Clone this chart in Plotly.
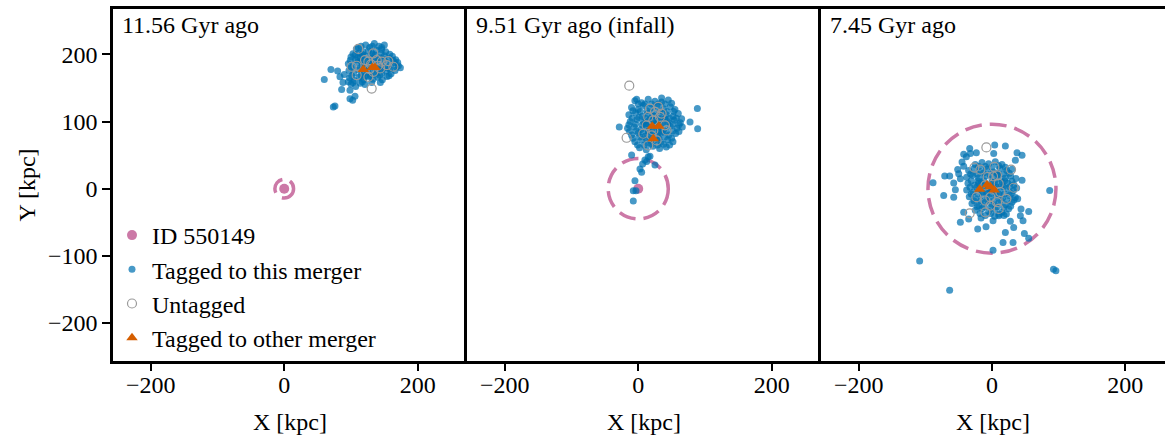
import plotly.graph_objects as go

# ---------------- data ----------------
panel_titles = ["11.56 Gyr ago", "9.51 Gyr ago (infall)", "7.45 Gyr ago"]
host_name = "ID 550149"
host_x = [0, 0, 0]
host_y = [0, 0, 0]
host_rvir = [14, 45, 96]

# Panel 1 (11.56 Gyr ago)
tag1_x = [108, 115, 122, 128, 135, 142, 150, 118, 126, 138, 146, 152, 112,
          100, 106, 114, 121, 129, 136, 143, 150, 157, 162, 167,
          96, 103, 110, 117, 124, 131, 138, 145, 152, 159, 165, 171, 174,
          97, 104, 111, 118, 125, 132, 139, 146, 153, 160, 166,
          98, 105, 112, 119, 126, 133, 140, 147, 154,
          100, 107, 114, 121,
          125, 135, 130, 140, 120, 145, 132, 128, 138, 115, 150, 158, 110, 122,
          111, 132, 146,
          103, 117, 131, 145, 158,
          99, 107, 121, 135, 149, 163, 170,
          100, 114, 128, 142, 156, 168,
          101, 115, 129, 143, 157,
          103, 117, 131, 144,
          70, 80, 60, 83.5, 86, 76, 73.5, 98.5, 102.5, 106, 98.5, 96, 90, 88]
tag1_y = [208, 212, 214, 210, 216, 212, 214, 204, 205, 206, 207, 204, 202,
          196, 199, 195, 198, 194, 199, 195, 198, 194, 197, 192,
          186, 182, 188, 184, 189, 185, 188, 183, 189, 184, 188, 183, 180,
          176, 172, 177, 171, 175, 170, 176, 172, 175, 171, 176,
          165, 161, 166, 162, 167, 163, 166, 162, 167,
          156, 152, 157, 155,
          182, 180, 190, 193, 180, 178, 200, 185, 172, 190, 180, 178, 195, 168,
          210, 212, 210,
          201, 200, 202, 201, 200,
          191, 192, 191, 191, 192, 191, 188,
          180, 180, 179, 181, 180, 181,
          168, 169, 168, 169, 168,
          158, 159, 158, 158,
          177.5, 175, 162.5, 166.5, 147.5, 123, 121.5, 134, 131.5, 137.5, 146.5, 159, 170, 158]
untag1_x = [111, 133.5, 101, 108.5, 121, 126, 138.5, 146, 156, 163.5, 108.5, 126, 133.5, 143.5, 153.5, 131, 130, 140, 128]
untag1_y = [208, 201.5, 181.5, 183, 191.5, 189, 191.5, 189, 190, 181.5, 169, 166.5, 174, 179, 184, 149, 185, 183, 178]
other1_x = [118.5, 132, 136]
other1_y = [177.5, 180.5, 180.5]

# Panel 2 (9.51 Gyr ago, infall)
tag2_x = [-5, 5, 15, 25, 35, 45,
          -10, 0, 8, 18, 28, 38, 48, 55,
          -14, -4, 6, 14, 22, 32, 42, 52, 60,
          -12, -2, 8, 16, 26, 34, 44, 54, 63,
          -16, -6, 4, 12, 20, 30, 38, 48, 58, 66,
          -10, 0, 10, 18, 28, 36, 46, 56,
          -5, 5, 14, 24, 34, 44, 52,
          2, 12, 22, 32, 42,
          20, 28, 15, 32, 24, 10, 40, 30, 18, 36,
          0, 10, 20, 30, 40, 50,
          -8, 3, 13, 23, 33, 43, 53,
          -9, 1, 11, 19, 29, 37, 47, 57,
          -14, -4, 6, 14, 24, 34, 44, 52, 61,
          -13, -3, 7, 16, 25, 33, 42, 52, 61,
          -8, 2, 12, 21, 31, 40, 50,
          -1, 9, 19, 29, 38, 47,
          88.6, 89, 77.6, -28.4, 35, -2.4, 65,
          -9.9, 17.6, 12.6, 6.6, 2.6, 5.1, -4.9, -7.4, -3.4, -7.4, 25.1, 15, 10]
tag2_y = [131, 128, 133, 130, 129, 132,
          121, 118, 124, 120, 123, 119, 122, 118,
          110, 113, 108, 112, 109, 113, 110, 108, 112,
          100, 103, 99, 102, 98, 103, 100, 102, 98,
          90, 92, 88, 93, 89, 91, 88, 93, 90, 92,
          80, 83, 78, 82, 79, 84, 80, 82,
          70, 73, 68, 72, 69, 73, 70,
          61, 58, 63, 60, 62,
          95, 100, 85, 86, 108, 96, 104, 76, 72, 96,
          126, 126, 126, 126, 126, 127,
          116, 115, 116, 116, 116, 115, 115,
          105, 106, 105, 105, 105, 106, 105, 105,
          95, 96, 95, 97, 96, 95, 96, 96, 95,
          85, 86, 84, 86, 85, 84, 85, 86, 85,
          75, 77, 75, 77, 75, 77, 75,
          65, 65, 66, 65, 66, 65,
          119.3, 89.3, 99.3, 91.8, 135, 133, 104,
          50.3, 48.3, 40.3, 36.8, 29.3, 24.3, 11.8, -3.2, -3.2, -18.2, 35.3, 47.6, 42.7]
untag2_x = [17.6, 30, 25, 15, 32.6, 22.6, 12.6, 40, 7.6, 20, 42.6, 15, 27.6, 35, 22.6, -13.4, -17.4]
untag2_y = [119.3, 121.8, 114.3, 106.8, 106.8, 101.8, 94.3, 94.3, 81.8, 79.3, 86.8, 64.3, 71.8, 111.8, 86.8, 153.3, 75.8]
other2_x = [21, 31, 22.6]
other2_y = [92.8, 92.8, 74.3]

# Panel 3 (7.45 Gyr ago)
tag3_x = [-25, -15, -5, 5, 15,
          -35, -27, -18, -8, 2, 12, 22, 30,
          -38, -29, -20, -10, 0, 10, 20, 28, 36,
          -36, -26, -16, -6, 4, 14, 24, 33,
          -38, -28, -18, -8, 2, 12, 22, 32,
          -34, -24, -14, -4, 6, 16, 26, 35,
          -30, -20, -10, 0, 10, 20, 30,
          -25, -15, -5, 5, 15, 25,
          -10, 4, 18,
          -5, 5, -12, 10, 0, -8, 15, -15, 8, -20,
          -20, -10, 0, 10, 20,
          -32, -22, -13, -3, 7, 17, 26,
          -31, -21, 9, 19, 30,
          -33, -23, -13, -3, 7, 17, 27, 37,
          -31, -21, -1, 19, 29,
          -27, -17, -7, 3, 13, 23, 33,
          -22, -12, -2, 8, 18, 28,
          -18, -2, 11,
          -88.4, -72.4, -70.9, -63.4, -57.4, -54.9, -57.4, -49.9, -47.4, -51.4, -42.4,
          -44.9, -38.4, -42.4, -32.4, -23.4, -33.4, 4.1, 20.1, 2.6, 37.6, 45.1, 35.1,
          -42.4, -47.4, -34.9, -21.4, -8.9, 1.6, 1.6, 20.1, 16.6, 31.6, 32.6, 27.6,
          42.6, 46.6, 55.1, 48.6, 55.1, 43.6, 45.1, 38.6, 86.6, 10.1, 21.6, -16.4,
          -108.5, -63.5, 92.3, 95.9]
tag3_y = [36, 39, 37, 40, 36,
          27, 30, 26, 29, 25, 30, 27, 29,
          17, 20, 16, 19, 15, 20, 16, 19, 15,
          8, 5, 9, 6, 10, 5, 8, 6,
          -2, -5, 0, -3, -1, -4, 0, -3,
          -12, -15, -10, -13, -11, -14, -10, -13,
          -22, -25, -20, -23, -21, -24, -20,
          -32, -30, -34, -31, -35, -30,
          -40, -41, -40,
          0, 5, 12, -8, 10, -8, 10, -5, 22, 8,
          33, 33, 32, 34, 32,
          22, 22, 23, 21, 23, 22, 23,
          12, 12, 14, 12, 11,
          2, 2, 3, 2, 2, 3, 3, 1,
          -8, -8, -7, -8, -7,
          -18, -18, -17, -18, -17, -18, -17,
          -27, -27, -28, -27, -28, -26,
          -37, -37, -38,
          8.9, -10.1, 18.9, 18.9, 8.4, -1.6, -12.6, 22.4, 14.9, 28.4, 33.4,
          39.9, 47.4, 51.4, 52.4, 53.4, 59.9, 64.9, 63.4, 52.4, 53.4, 49.9, 42.4,
          -35.1, -50.1, -45.1, -60.1, -56.6, -47.6, -91.6, -65.1, -80.1, -80.1, -57.6, -48.6,
          -40.1, -47.6, -34.1, -66.6, -73.6, -30.1, 12.4, -15.1, -2.6, -40.1, -37.6, -43.6,
          -107.6, -151.3, -120, -122]
untag3_x = [-8.4, -26.4, -17.4, 3.6, 28.6, 32.6, -33.4, -6.4, 1.6, 7.6, -9.9, 10.1, 12.6,
            -23.4, -9.9, -2.4, 7.6, 21.6, -9.9, 10.1, -2.4]
untag3_y = [61.4, 31.4, 28.4, 32.4, 28.4, 1.4, -36.6, 17.4, 18.4, 19.9, 4.9, 7.4, -5.1,
            -12.6, -17.6, -12.6, -20.1, -15.1, -35.1, -30.1, -25.1]
other3_x = [-18.5, -7.5, -2.5, 3.4]
other3_y = [-0.9, 5.5, 3.0, -2.0]

tagged_x = [tag1_x, tag2_x, tag3_x]
tagged_y = [tag1_y, tag2_y, tag3_y]
untag_x = [untag1_x, untag2_x, untag3_x]
untag_y = [untag1_y, untag2_y, untag3_y]
other_x = [other1_x, other2_x, other3_x]
other_y = [other1_y, other2_y, other3_y]

x_ticks = [-200, 0, 200]
y_ticks = [-200, -100, 0, 100, 200]

# ---------------- style ----------------
W, H = 1165, 436
C_HOST = "#CC79A7"
C_TAG = "rgba(0,114,178,0.72)"
C_UNTAG = "#9a9a9a"
C_OTHER = "#D55E00"
FONT = "Liberation Serif"
FS = 24

x_dom = [(113 / W, 467 / W), (467 / W, 821 / W), (821 / W, 1.0)]
y_dom = ((436 - 360.7) / H, (436 - 9.3) / H)
x_rng = [(-256.5, 273.8), (-256.5, 273.8), (-256.5, 259.6)]
y_rng = (-256, 267)

fig = go.Figure()

for i in range(3):
    xa = "x" if i == 0 else f"x{i+1}"
    ya = "y" if i == 0 else f"y{i+1}"
    leg = i == 0
    fig.add_trace(go.Scatter(x=[host_x[i]], y=[host_y[i]], mode="markers", name=host_name,
                             marker=dict(color=C_HOST, size=10), xaxis=xa, yaxis=ya,
                             showlegend=leg, legendgroup="a"))
    fig.add_trace(go.Scatter(x=tagged_x[i], y=tagged_y[i], mode="markers", name="Tagged to this merger",
                             marker=dict(color=C_TAG, size=7, line=dict(width=0)), xaxis=xa, yaxis=ya,
                             showlegend=leg, legendgroup="b"))
    fig.add_trace(go.Scatter(x=untag_x[i], y=untag_y[i], mode="markers", name="Untagged",
                             marker=dict(color=C_UNTAG, size=9, symbol="circle-open", line=dict(width=1.2)),
                             xaxis=xa, yaxis=ya, showlegend=leg, legendgroup="c"))
    fig.add_trace(go.Scatter(x=other_x[i], y=other_y[i], mode="markers", name="Tagged to other merger",
                             marker=dict(color=C_OTHER, size=10, symbol="triangle-up"), xaxis=xa, yaxis=ya,
                             showlegend=leg, legendgroup="d"))
    r = host_rvir[i]
    fig.add_shape(type="circle", xref=xa, yref=ya, x0=host_x[i] - r, x1=host_x[i] + r,
                  y0=host_y[i] - r, y1=host_y[i] + r, layer="below",
                  line=dict(color=C_HOST, width=3.5, dash="17px,8px"))
    fig.add_annotation(text=panel_titles[i], xref="paper", yref="paper",
                       x=x_dom[i][0] + 7 / W, y=1 - 10 / H, xanchor="left", yanchor="top",
                       showarrow=False, font=dict(family=FONT, size=FS, color="black"))

axis_common = dict(showgrid=False, zeroline=False, showline=True, linecolor="black", linewidth=2.5,
                   ticks="outside", ticklen=8, tickwidth=2, tickcolor="black",
                   tickfont=dict(family=FONT, size=FS, color="black"))
layout = dict(width=W, height=H, margin=dict(l=0, r=0, t=0, b=0),
              paper_bgcolor="white", plot_bgcolor="white",
              font=dict(family=FONT, size=FS, color="black"),
              legend=dict(x=112 / W, y=1 - 213 / H, xanchor="left", yanchor="top",
                          bgcolor="rgba(0,0,0,0)", font=dict(family=FONT, size=FS),
                          tracegroupgap=0, traceorder="normal"))
for i in range(3):
    kx = "xaxis" if i == 0 else f"xaxis{i+1}"
    ky = "yaxis" if i == 0 else f"yaxis{i+1}"
    ya = "y" if i == 0 else f"y{i+1}"
    xa = "x" if i == 0 else f"x{i+1}"
    layout[kx] = dict(axis_common, domain=list(x_dom[i]), range=list(x_rng[i]), anchor=ya,
                      tickvals=x_ticks, mirror=True, ticklabelstandoff=-7,
                      title=dict(text="X [kpc]", font=dict(family=FONT, size=FS), standoff=16))
    ydict = dict(axis_common, domain=list(y_dom), range=list(y_rng), anchor=xa,
                 tickvals=y_ticks, mirror=False)
    if i == 0:
        ydict["title"] = dict(text="Y [kpc]", font=dict(family=FONT, size=FS), standoff=6)
    else:
        ydict["showticklabels"] = False
        ydict["ticks"] = ""
    layout[ky] = ydict

fig.update_layout(**layout)
fig.write_html("out.html")
